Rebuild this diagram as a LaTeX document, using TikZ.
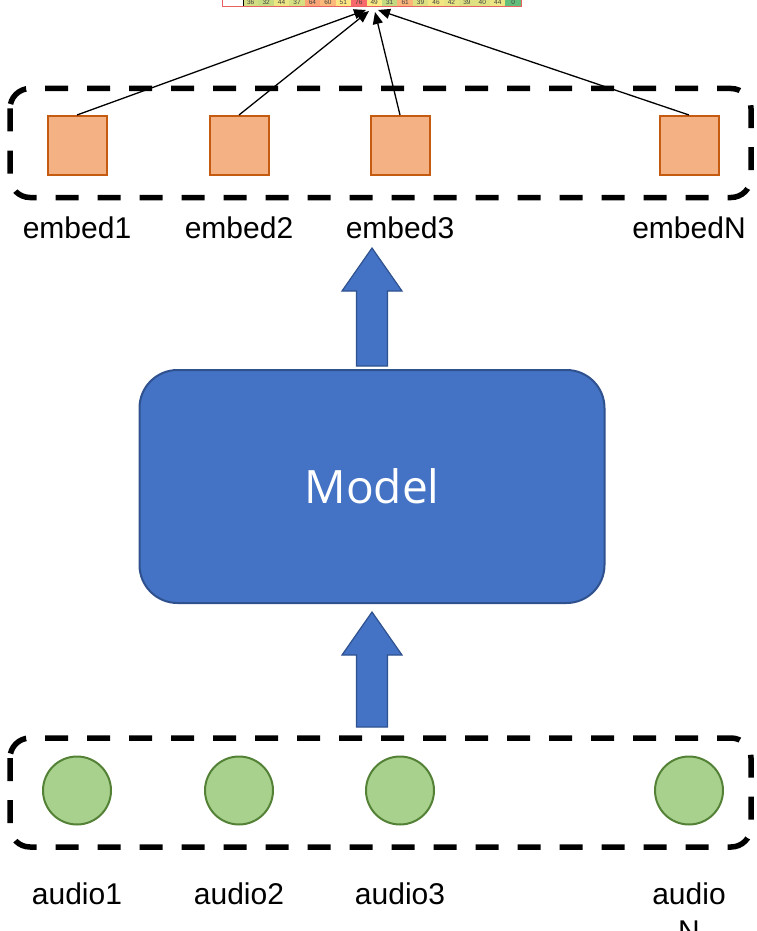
\documentclass[tikz,border=0pt]{standalone}
\usepackage{fontspec}
\setmainfont{Liberation Sans}
\newfontfamily\modelfont{Open Sans}
\usetikzlibrary{arrows.meta}
\definecolor{embfill}{HTML}{F4B183}
\definecolor{embdraw}{HTML}{C55A11}
\definecolor{audfill}{HTML}{A9D18E}
\definecolor{auddraw}{HTML}{538135}
\definecolor{modfill}{HTML}{4472C4}
\definecolor{moddraw}{HTML}{2F528F}
\definecolor{heatred}{RGB}{232,96,96}

\begin{document}
\begin{tikzpicture}[x=1pt,y=-1pt,
  groupbox/.style={draw=black, line width=5.5pt, dash pattern=on 23pt off 19pt, rounded corners=20pt},
  embedbox/.style={draw=embdraw, fill=embfill, line width=2pt, minimum size=59pt, inner sep=0pt},
  audiodot/.style={circle, draw=auddraw, fill=audfill, line width=2pt, minimum size=68pt, inner sep=0pt},
  lab/.style={font=\fontsize{30}{36}\selectfont, inner sep=0pt, anchor=base},
  blockarrow/.style={fill=modfill, draw=moddraw, line width=1.2pt},
  link/.style={line width=1.3pt, -{Triangle[length=12pt,width=10pt]}},
  cellnum/.style={font=\fontsize{6.5}{7}\selectfont, text=black!75, inner sep=0pt},
]
\useasboundingbox (0,0) rectangle (756,931);
\clip (0,0) rectangle (756,931);

% heat-map row of scores at the top
\fill[white] (222.5,-10) rectangle (243,7);
\foreach \v/\r/\g/\b [count=\i from 0] in {
  36/211/222/130, 32/199/219/129, 44/236/230/131, 37/214/223/130,
  64/251/165/119, 60/252/185/122, 51/254/230/131, 76/248/105/107,
  49/252/234/132, 31/196/218/129, 61/252/180/121, 39/221/225/130,
  46/243/231/131, 42/230/228/131, 39/221/225/130, 40/224/226/130,
  44/236/230/131, 0/99/190/123} {
  \definecolor{cellc}{RGB}{\r,\g,\b}
  \fill[cellc] (243+\i*15.44,-10) rectangle ++(15.44,17);
  \node[cellnum] (cell\i) at (243+\i*15.44+7.72,2.5) {\v};
}
\draw[black, line width=0.8pt] (243,-10) -- (243,7);
\draw[heatred, line width=1pt] (222.5,-10) rectangle (521.5,7);

% arrow targets under the score row
\coordinate (t1) at (366,10);
\coordinate (t2) at (369,11);
\coordinate (t3) at (375,12);
\coordinate (t4) at (378,10);

% embeddings
\draw[groupbox] (10,88.5) rectangle (751,197.5);
\node[embedbox] (e1) at (77,145.5) {};
\node[embedbox] (e2) at (239,145.5) {};
\node[embedbox] (e3) at (400,145.5) {};
\node[embedbox] (eN) at (689,145.5) {};
\node[lab] (le1) at (77,238) {embed1};
\node[lab] (le2) at (239,238) {embed2};
\node[lab] (le3) at (400,238) {embed3};
\node[lab] (leN) at (689,238) {embedN};

\draw[link] (e1.north) -- (t1);
\draw[link] (e2.north) -- (t2);
\draw[link] (e3.north) -- (t3);
\draw[link] (eN.north) -- (t4);

% model
\node[draw=moddraw, fill=modfill, line width=2pt, rounded corners=38pt,
      minimum width=465pt, minimum height=233pt, inner sep=0pt,
      text=white, font=\modelfont\fontsize{46}{50}\selectfont] (model) at (372,486.5) {Model};

% block arrows
\draw[blockarrow] (372,248) -- (402,291) -- (387.5,291) -- (387.5,366)
  -- (356.5,366) -- (356.5,291) -- (342,291) -- cycle;
\draw[blockarrow] (372,612) -- (402,655) -- (387.5,655) -- (387.5,727)
  -- (356.5,727) -- (356.5,655) -- (342,655) -- cycle;

% audio inputs
\draw[groupbox] (10,738) rectangle (751,847);
\node[audiodot] (a1) at (77,790.5) {};
\node[audiodot] (a2) at (239,790.5) {};
\node[audiodot] (a3) at (400,790.5) {};
\node[audiodot] (aN) at (689,790.5) {};
\node[lab] (la1) at (77,904) {audio1};
\node[lab] (la2) at (239,904) {audio2};
\node[lab] (la3) at (400,904) {audio3};
\node[lab] (laN) at (689,904) {audio};
\node[lab] (laN2) at (689,941) {N};
\end{tikzpicture}
\end{document}
